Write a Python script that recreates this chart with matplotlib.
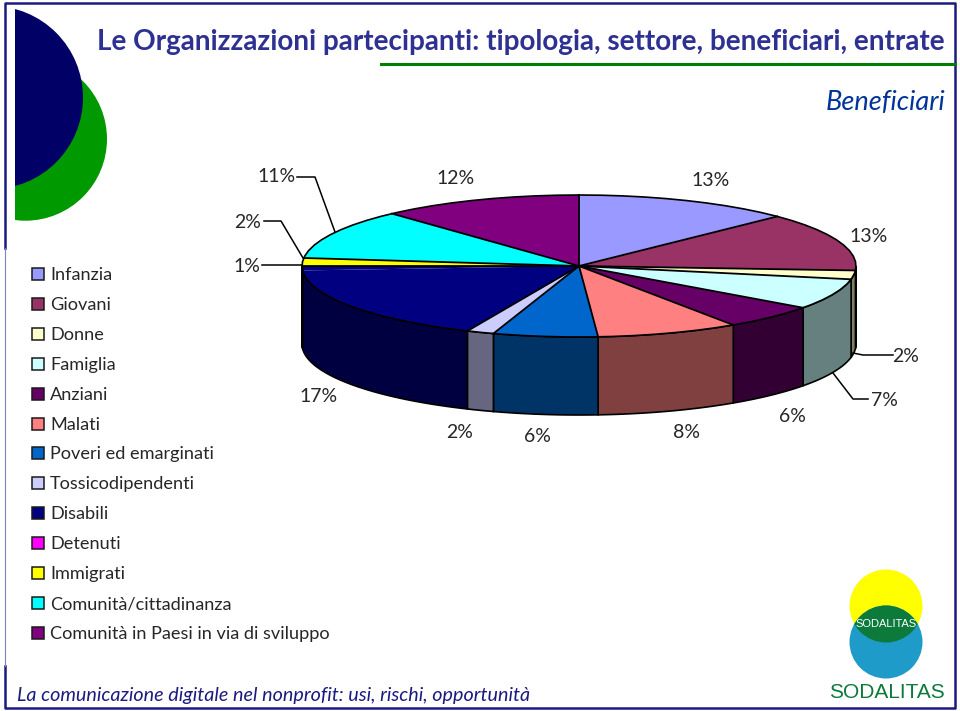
import numpy as np
import matplotlib
matplotlib.use('Agg')
import matplotlib.pyplot as plt
from matplotlib.patches import Circle, Polygon, Rectangle

plt.rcParams['font.family'] = ['Lato', 'DejaVu Sans']

# Data (slice sizes estimated, labels are the rounded ones shown)
categorie = ['Infanzia', 'Giovani', 'Donne', 'Famiglia', 'Anziani', 'Malati',
             'Poveri ed emarginati', 'Tossicodipendenti', 'Disabili', 'Detenuti',
             'Immigrati', 'Comunità/cittadinanza', 'Comunità in Paesi in via di sviluppo']
valori = [12.7, 13.3, 2, 7, 5.6, 8.3, 6.1, 1.6, 17.4, 1, 1.8, 11.4, 11.8]
etichette = ['13%', '13%', '2%', '7%', '6%', '8%', '6%', '2%', '17%', '1%', '2%', '11%', '12%']
colori = ['#9999FF', '#993366', '#FFFFCC', '#CCFFFF', '#660066', '#FF8080', '#0066CC',
          '#CCCCFF', '#000080', '#FF00FF', '#FFFF00', '#00FFFF', '#800080']
# in the picture the Detenuti slice shows up dark blue, only the legend is magenta
colori_fette = colori[:9] + ['#000080'] + colori[10:]

NAVY = '#2E3192'
cx, cy, rx, ry, depth = 579, 266, 277, 71, 78


def rim(t0, t1):
    t = np.radians(np.linspace(t0, t1, 80))
    return np.column_stack([cx + rx * np.sin(t), cy - ry * np.cos(t)])


def scuro(col):
    return tuple(0.5 * c for c in matplotlib.colors.to_rgb(col))


fig = plt.figure(figsize=(9.6, 7.11), dpi=100)
ax = fig.add_axes([0, 0, 1, 1])
ax.set_xlim(0, 960)
ax.set_ylim(711, 0)
ax.axis('off')

# Frame
ax.plot([5, 5, 955, 955, 5, 5], [248, 3, 3, 708, 708, 666], color='#1A1A80', lw=1.8)
ax.plot([5, 5], [248, 666], color='#8080C0', lw=0.8)

# Corner half circles
clip = Rectangle((15, 0), 200, 300, transform=ax.transData)
for centro, r, col in [((25.3, 139), 81.7, '#009900'), ((-8.6, 97.5), 91.6, '#000066')]:
    c = Circle(centro, r, color=col, lw=0)
    ax.add_patch(c)
    c.set_clip_path(clip)

# Title
ax.text(97, 42, 'Le Organizzazioni partecipanti: tipologia, settore, beneficiari, entrate',
        fontsize=20.1, fontweight='bold', color=NAVY, va='center', ha='left')
ax.plot([381, 955], [64, 64], color='#008000', lw=2.2)
ax.text(945, 102.5, 'Beneficiari', fontsize=19.5, style='italic', color='#003399',
        va='center', ha='right')

# Pie
angoli = np.cumsum([0] + valori) * 360 / sum(valori)

# side walls first
for i, col in enumerate(colori_fette):
    t0, t1 = max(angoli[i], 90), min(angoli[i + 1], 270)
    if t1 <= t0:
        continue
    top = rim(t0, t1)
    bottom = top[::-1] + [0, depth]
    ax.add_patch(Polygon(np.vstack([top, bottom]), closed=True, fc=scuro(col),
                         ec='black', lw=1.2, zorder=2))

# top faces
for i, col in enumerate(colori_fette):
    pts = np.vstack([[cx, cy], rim(angoli[i], angoli[i + 1])])
    ax.add_patch(Polygon(pts, closed=True, fc=col, ec='none', zorder=3))

# outlines, nothing between Disabili and Detenuti
for i, a in enumerate(angoli[:-1]):
    if categorie[i] == 'Detenuti':
        continue
    p = rim(a, a)[0]
    ax.plot([cx, p[0]], [cy, p[1]], color='black', lw=1.3, zorder=4)
outline = rim(0, 360)
ax.plot(outline[:, 0], outline[:, 1], color='black', lw=1.2, zorder=4)

# Percent labels
pos_x = [711, 869, 906, 884, 792, 687, 537, 460, 319, 247, 248, 277, 456]
pos_y = [180, 236, 356, 400, 417, 432, 437, 432, 397, 266, 222, 177, 178]
for e, x, y in zip(etichette, pos_x, pos_y):
    ax.text(x, y, e, fontsize=14, color='#262626', ha='center', va='center', zorder=5)

# Leader lines
linee = [([297, 315, 335], [177, 177, 232]),
         ([264, 281, 303], [221, 221, 258]),
         ([262, 302], [265, 265]),
         ([893, 863, 853], [355, 355, 353]),
         ([868, 853, 833], [399, 399, 373])]
for lx, ly in linee:
    ax.plot(lx, ly, color='black', lw=1.1, zorder=5)

# Legend
leg_y = [274, 304, 334, 364, 394, 424, 453, 483, 513, 543, 573, 603, 633]
for nome, col, y in zip(categorie, colori, leg_y):
    ax.add_patch(Rectangle((31.5, y - 6), 12, 12, fc=col, ec='#1a1a1a', lw=1.1))
    ax.text(50, y + 1, nome, fontsize=13.1, color='#262626', va='center', ha='left')

# Footer
ax.text(17, 695, 'La comunicazione digitale nel nonprofit: usi, rischi, opportunità',
        fontsize=14.25, style='italic', color='#1A1A80', va='center', ha='left')

# Logo
giallo = Circle((886, 606), 36.5, color='#FFFF00', lw=0)
blu = Circle((886, 642), 36.5, color='#1E9BC8', lw=0)
ax.add_patch(giallo)
ax.add_patch(blu)
lente = Circle((886, 606), 36.5, color='#0B7A3B', lw=0)
ax.add_patch(lente)
lente.set_clip_path(blu)
ax.text(886, 624, 'SODALITAS', fontsize=8, color='white', ha='center', va='center',
        family='Liberation Sans')
ax.text(886.5, 692, 'SODALITAS', fontsize=15, color='#0B7A3B', ha='center', va='center',
        family='Liberation Sans')

fig.savefig('out.png', dpi=100)
